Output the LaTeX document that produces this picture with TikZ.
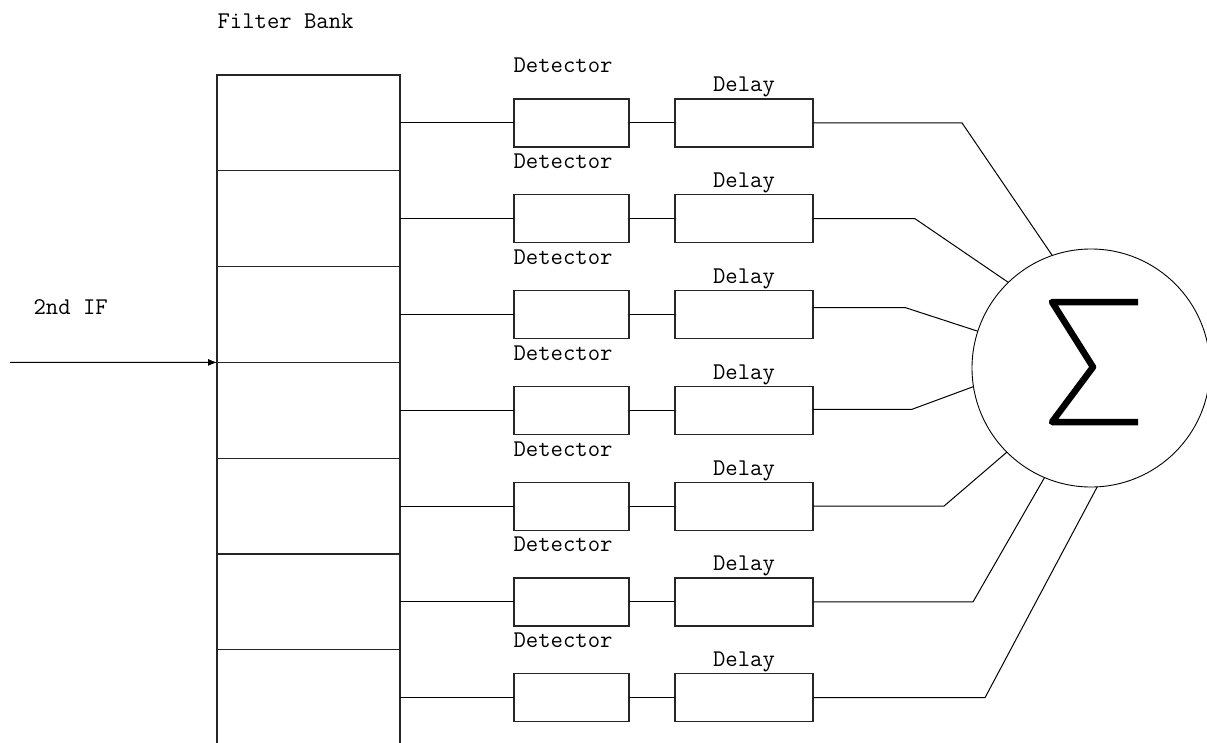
\documentclass[tikz,border=0pt]{standalone}
\usetikzlibrary{arrows.meta, positioning}

\begin{document}
\begin{tikzpicture}[x=1pt, y=-1pt, line width=1.2pt, >=Latex, every node/.style={font=\ttfamily\fontsize{24}{28}\selectfont}]
  % Define styles
  \tikzstyle{cell} = [rectangle, draw=black!85, minimum width=183pt, minimum height=95.8pt, inner sep=0pt, outer sep=0pt]
  \tikzstyle{detbox} = [rectangle, draw=black!85, minimum width=115pt, minimum height=48pt, inner sep=0pt, outer sep=0pt]
  \tikzstyle{delaybox} = [detbox, minimum width=138pt]
  \tikzstyle{adder} = [circle, draw, line width=0.9pt, minimum size=238pt, inner sep=0pt, outer sep=0pt]
  \tikzstyle{lbl} = [inner sep=0pt]
  \tikzstyle{wire} = [draw, line width=1pt]

  \useasboundingbox (0,0) rectangle (1207,742);
  \clip (0,0) rectangle (1207,742);

  % Filter bank
  \node [cell] (cell0) at (308.5,122.9) {};
  \foreach \i [count=\j from 0] in {1,...,6}
    \node [cell, below=0pt of cell\j] (cell\i) {};
  \node [lbl, anchor=base west] (bankLabel) at ([yshift=47pt]cell0.north west) {Filter Bank};

  % Input
  \coordinate (ifIn) at (10,362.4);
  \node [lbl, anchor=base west] (ifLabel) at (33,314) {2nd IF};
  \path [wire, -{Latex[length=9pt, width=7pt]}] (ifIn) -- (cell3.north west);

  % Detector and delay rows
  \foreach \i in {0,...,6} {
    \node [detbox, right=114pt of cell\i] (det\i) {};
    \node [delaybox, right=46pt of det\i] (dl\i) {};
    \node [lbl, anchor=base west] at ([xshift=-1pt, yshift=26pt]det\i.north west) {Detector};
    \node [lbl, anchor=base] at ([yshift=7pt]dl\i.north) {Delay};
    \path [wire] (cell\i) -- (det\i);
    \path [wire] (det\i) -- (dl\i);
  }

  % Summer
  \node [adder] (sum) at (1091,368) {};
  \draw [line width=6.5pt, line join=round] ([shift={(47,-66)}]sum.center) -- ++(-86,0) -- ++(41,65) -- ++(-41,55) -- ++(86,0);

  % Draw edges
  \foreach \i/\x/\s/\a in {0/962/0/109, 1/915/0/134, 2/905/7/162, 3/912/1/189, 4/944/0/225, 5/973/0/247, 6/985/0/273} {
    \coordinate (out\i) at ([yshift=\s pt]dl\i.east);
    \path [wire] (out\i) -- (out\i -| \x,0) -- (sum.\a);
  }
\end{tikzpicture}
\end{document}
